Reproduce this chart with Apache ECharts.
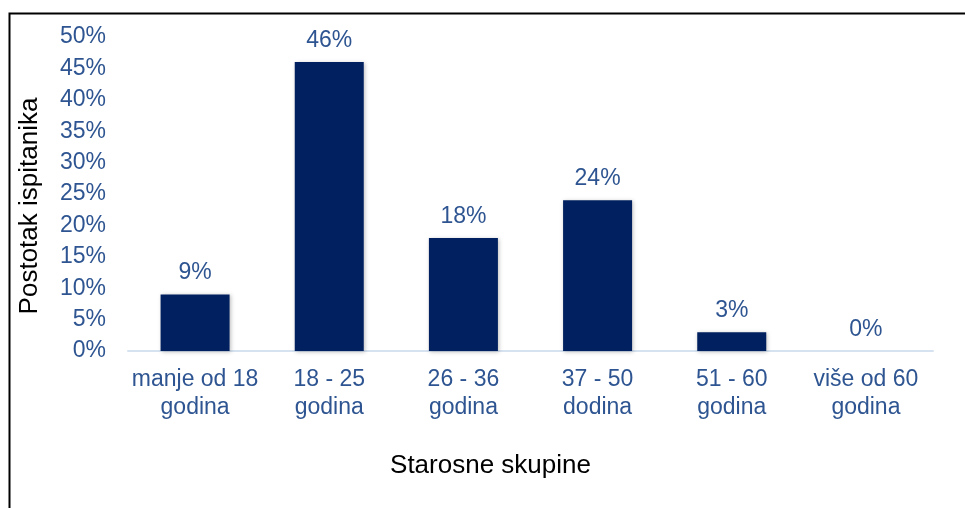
<!DOCTYPE html>
<html>
<head>
<meta charset="utf-8">
<script src="https://cdn.jsdelivr.net/npm/echarts@6/dist/echarts.min.js"></script>
<style>
html,body{margin:0;padding:0;background:#fff;}
#c{width:965px;height:508px;}
</style>
</head>
<body>
<div id="c"></div>
<script>
const categories = ['manje od 18\ngodina', '18 - 25\ngodina', '26 - 36\ngodina', '37 - 50\ndodina', '51 - 60\ngodina', 'više od 60\ngodina'];
const values = [9, 46, 18, 24, 3, 0];
const yTicks = [0, 5, 10, 15, 20, 25, 30, 35, 40, 45, 50];

const textColor = '#2E5591';
const font = '"Liberation Sans", Arial, sans-serif';
const chart = echarts.init(document.getElementById('c'));
chart.setOption({
  animation: false,
  backgroundColor: '#fff',
  graphic: [{
    type: 'rect',
    shape: { x: 9.5, y: 13.5, width: 1000, height: 600 },
    style: { fill: 'none', stroke: '#000', lineWidth: 2 },
    silent: true
  }],
  grid: { left: 128, right: 32, top: 37, bottom: 157 },
  xAxis: {
    type: 'category',
    data: categories,
    name: 'Starosne skupine',
    nameLocation: 'middle',
    nameGap: 102,
    nameTextStyle: { color: '#000', fontSize: 26, fontFamily: font, padding: [0, 80, 0, 0] },
    axisLine: { lineStyle: { color: '#D6E2F0', width: 2 } },
    axisTick: { show: false },
    axisLabel: { color: textColor, fontSize: 23, fontFamily: font, lineHeight: 28, margin: 15, interval: 0 }
  },
  yAxis: {
    type: 'value',
    min: 0, max: 50, interval: 5,
    name: 'Postotak ispitanika',
    nameLocation: 'middle',
    nameGap: 85,
    nameTextStyle: { color: '#000', fontSize: 26, fontFamily: font, padding: [0, 24, 0, 0] },
    splitLine: { show: false },
    axisLine: { show: false },
    axisTick: { show: false },
    axisLabel: {
      color: textColor, fontSize: 23, fontFamily: font, margin: 22,
      formatter: function (v) { return yTicks.indexOf(v) >= 0 ? v + '%' : ''; }
    }
  },
  series: [{
    type: 'bar',
    data: values,
    barWidth: 69,
    itemStyle: {
      color: '#002060',
      shadowColor: 'rgba(0,0,0,0.25)',
      shadowBlur: 4,
      shadowOffsetX: 1,
      shadowOffsetY: 1
    },
    label: {
      show: true,
      position: 'top',
      distance: 10,
      color: textColor,
      fontSize: 23,
      fontFamily: font,
      formatter: '{c}%'
    }
  }]
});
</script>
</body>
</html>
